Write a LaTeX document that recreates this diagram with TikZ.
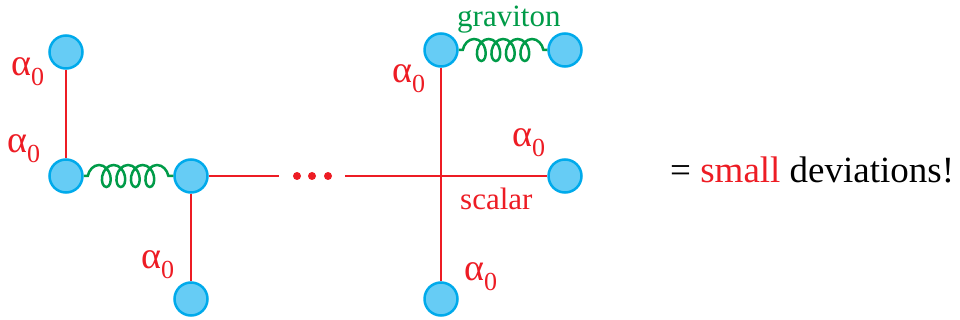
\documentclass[tikz,border=0pt]{standalone}
\usepackage{fontspec}
\setmainfont{Liberation Serif}
\usetikzlibrary{positioning, decorations.pathmorphing}
\definecolor{blobblue}{RGB}{102,204,245}
\definecolor{blobedge}{RGB}{0,170,235}
\definecolor{scalarred}{RGB}{237,28,36}
\definecolor{gluongreen}{RGB}{0,155,72}
\newcommand{\azero}{\fontsize{38}{38}\selectfont α\raisebox{-10pt}{\fontsize{26}{26}\selectfont 0}}

\begin{document}
\begin{tikzpicture}[x=1pt, y=-1pt,
  blob/.style={circle, fill=blobblue, draw=blobedge, line width=2.5pt, minimum size=33pt, inner sep=0pt},
  scalarline/.style={scalarred, line width=2pt},
  gluon/.style={gluongreen, line width=2.5pt, decorate, decoration={coil, amplitude=11pt, segment length=14.5pt, aspect=0.7, pre length=4pt, post length=1pt}},
  lbl/.style={text=scalarred, inner sep=0pt, anchor=base west}]
\useasboundingbox (0,0) rectangle (960,320);
% vertices
\node[blob] (v1) at (66,52) {};
\node[blob] (v2) at (66,176) {};
\node[blob] (v3) at (191,176) {};
\node[blob] (v4) at (191,299) {};
\node[blob] (v5) at (441,50) {};
\node[blob] (v6) at (565,50) {};
\node[blob] (v7) at (565,176) {};
\node[blob] (v8) at (441,299) {};
\node[minimum width=66pt, inner sep=0pt] (dots) at (312,176) {};
\foreach \dx in {-15,0,16}
  \fill[scalarred] ([xshift=\dx pt]dots.center) circle (4pt);
% propagators
\draw[scalarline] (v1) -- (v2);
\draw[scalarline] (v3) -- (v4);
\draw[scalarline] (v3) -- (dots);
\draw[scalarline] (dots) -- (v7);
\draw[scalarline] (v5) -- (v8);
\draw[gluon] (v2) -- (v3);
\draw[gluon] (v5) -- (v6);
% couplings
\node[lbl] (c1) at (11,76) {\azero};
\node[lbl] (c2) at (7,153) {\azero};
\node[lbl] (c3) at (141,268) {\azero};
\node[lbl] (c4) at (392,83) {\azero};
\node[lbl] (c5) at (512,147) {\azero};
\node[lbl] (c6) at (464,280) {\azero};
\node[lbl, text=gluongreen, font=\fontsize{31}{31}\selectfont] (grav) at (457,27) {graviton};
\node[lbl, font=\fontsize{31}{31}\selectfont] (scal) at (460,210) {scalar};
\node[inner sep=0pt, anchor=base west, font=\fontsize{37}{37}\selectfont] (dev) at (670,183) {= \textcolor{scalarred}{small} deviations!};
\end{tikzpicture}
\end{document}
